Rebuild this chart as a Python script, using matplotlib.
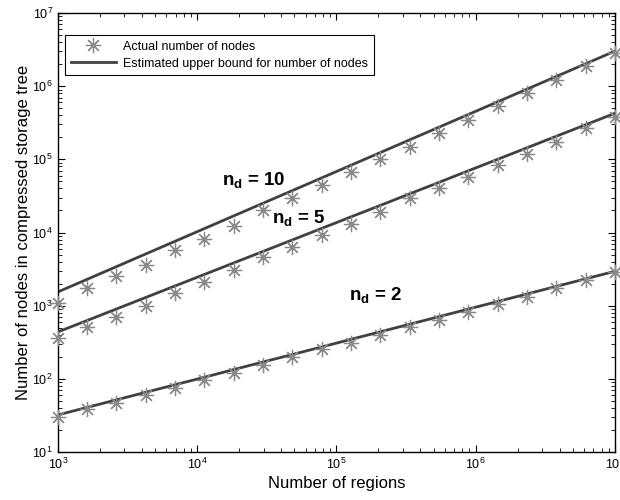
import numpy as np
import matplotlib
matplotlib.use("Agg")
from matplotlib import pyplot as plt

# number of regions (x grid, 20 points from 1e3 to 1e7)
regions = [1000, 1624, 2637, 4281, 6952, 11288, 18330, 29764, 48329, 78476,
           127427, 206914, 335982, 545559, 885867, 1438450, 2335721, 3792690,
           6158482, 10000000]

# actual number of nodes (markers)
actual_nd2 = [30.3, 38.4, 47.2, 60.1, 75.7, 96.4, 121, 155, 200, 254,
              312, 397, 506, 637, 813, 1047, 1334, 1718, 2239, 2911]
actual_nd5 = [357, 506, 706, 989, 1472, 2123, 3069, 4571, 6310, 9247,
              13060, 19230, 29310, 40180, 56750, 83560, 118300, 174200, 265500, 384600]
actual_nd10 = [1072, 1738, 2512, 3631, 5754, 8128, 12300, 20400, 29240, 44700,
               67600, 102300, 149600, 226500, 344400, 531000, 794000, 1230000, 1862000, 2851000]

# estimated upper bound (lines)
bound_nd2 = [32.1, 40.7, 51.6, 65.5, 83.1, 105, 134, 170, 215, 273,
             347, 440, 558, 708, 899, 1140, 1446, 1835, 2328, 2951]
bound_nd5 = [437, 627, 901, 1295, 1861, 2673, 3840, 5517, 7926, 11390,
             16370, 23500, 33800, 48500, 69800, 100200, 143900, 207000, 297000, 427000]
bound_nd10 = [1538, 2291, 3417, 5094, 7590, 11320, 16870, 25150, 37430, 55800,
              83200, 123900, 184900, 275400, 410500, 612000, 912000, 1358000, 2026000, 3020000]

plt.rcParams['font.family'] = ['Liberation Sans', 'DejaVu Sans']
plt.rcParams['mathtext.fontset'] = 'custom'
plt.rcParams['mathtext.rm'] = 'Liberation Sans'
plt.rcParams['mathtext.it'] = 'Liberation Sans'
plt.rcParams['mathtext.bf'] = 'Liberation Sans:bold'

fig = plt.figure(figsize=(6.2, 5), dpi=100)
ax = fig.add_axes([0.0932, 0.096, 0.8988, 0.878])

line_col = '#404040'
mark_col = '#8a8a8a'
star = (8, 2, 0)  # matlab-like asterisk

for act, bnd in [(actual_nd2, bound_nd2), (actual_nd5, bound_nd5), (actual_nd10, bound_nd10)]:
    ax.plot(regions, act, ls='none', marker=star, ms=11, mec=mark_col, mew=0.9, clip_on=False, zorder=3)
    ax.plot(regions, bnd, color=line_col, lw=2, zorder=2)

ax.set_xscale('log')
ax.set_yscale('log')
ax.set_xlim(1e3, 1e7)
ax.set_ylim(1e1, 1e7)

ax.tick_params(which='both', direction='in', top=True, right=True, labelsize=9)
ax.tick_params(which='major', length=5, width=0.8)
ax.tick_params(which='minor', length=3, width=0.6)
for s in ax.spines.values():
    s.set_linewidth(1.0)

ax.set_xlabel('Number of regions', fontsize=12, labelpad=3)
ax.set_ylabel('Number of nodes in compressed storage tree', fontsize=12, labelpad=1)

ax.text(10**4.18, 10**4.72, r'$\mathbf{n_d}$ = 10', fontsize=13.5, fontweight='bold', va='center')
ax.text(10**4.54, 10**4.2, r'$\mathbf{n_d}$ = 5', fontsize=13.5, fontweight='bold', va='center')
ax.text(10**5.09, 10**3.146, r'$\mathbf{n_d}$ = 2', fontsize=13.5, fontweight='bold', va='center')

h1, = ax.plot([], [], ls='none', marker=star, ms=11, mec=mark_col, mew=0.9)
h2, = ax.plot([], [], color=line_col, lw=2)
leg = ax.legend([h1, h2], ['Actual number of nodes', 'Estimated upper bound for number of nodes'],
                loc='upper left', bbox_to_anchor=(0.013, 0.95), fontsize=9, fancybox=False,
                edgecolor='black', framealpha=1, borderpad=0.45, handlelength=3.6,
                handletextpad=0.6, labelspacing=0.4, borderaxespad=0)
leg.get_frame().set_linewidth(0.8)

fig.savefig('out.png', dpi=100)
